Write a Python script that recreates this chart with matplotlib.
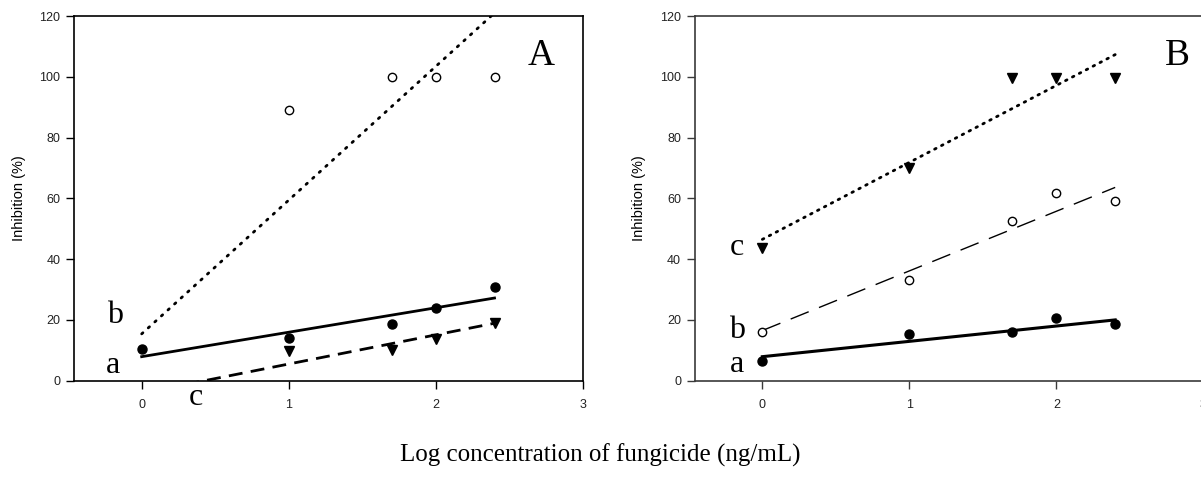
import matplotlib
matplotlib.use("Agg")
import matplotlib.pyplot as plt
import numpy as np

# ---- data ----
x_conc = [0, 1, 1.7, 2, 2.4]
x_conc_A_c = [1, 1.7, 2, 2.4]
x_conc_A_b = [1, 1.7, 2, 2.4]

A_a = [10.5, 14.2, 18.5, 23.9, 30.8]
A_b = [89.2, 100, 100, 100]
A_c = [9.9, 10.1, 13.8, 18.9]

B_a = [6.6, 15.2, 16.0, 20.6, 18.5]
B_b = [16.0, 33.2, 52.6, 61.7, 59.0]
B_c = [43.5, 70.1, 99.6, 99.6, 99.6]

fit_x = [0, 2.4]
A_fit_a = [7.9, 27.2]
A_fit_b = [15.4, 121.0]
A_fit_c = [-4.1, 18.9]
B_fit_a = [7.9, 20.0]
B_fit_b = [16.5, 63.6]
B_fit_c = [46.5, 107.3]

xticks = [0, 1, 2, 3]
yticks = [0, 20, 40, 60, 80, 100, 120]

serif = ["Liberation Serif", "DejaVu Serif"]
sans = ["Liberation Sans", "DejaVu Sans"]

fig = plt.figure(figsize=(12.01, 4.78), dpi=100)
axA = fig.add_axes([0.0619, 0.2036, 0.4233, 0.7629])
axB = fig.add_axes([0.5787, 0.2036, 0.4233, 0.7629])

def style(ax, spine_color):
    ax.set_xlim(-0.458, 3.0)
    ax.set_ylim(0, 120)
    ax.set_xticks(xticks)
    ax.set_yticks(yticks)
    ax.tick_params(direction="out", length=6, width=1, labelsize=9,
                   colors=spine_color, labelcolor="#222222")
    ax.tick_params(axis="x", pad=7)
    ax.tick_params(axis="y", pad=4)
    for lab in ax.get_xticklabels() + ax.get_yticklabels():
        lab.set_fontfamily(sans)
    for sp in ax.spines.values():
        sp.set_color(spine_color)
        sp.set_linewidth(1.2)
    ax.set_ylabel("Inhibition (%)", fontsize=10.5, family=sans, labelpad=10)

style(axA, "black")
style(axB, "#3a3a3a")
axB.spines["right"].set_visible(False)

# Panel A
axA.plot(fit_x, A_fit_a, color="black", lw=2.0, ls="-")
axA.plot(fit_x, A_fit_b, color="black", lw=2.0, ls=(0, (0.6, 2.6)), dash_capstyle="round")
axA.plot(fit_x, A_fit_c, color="black", lw=2.0, ls=(0, (5, 3)))
axA.plot(x_conc, A_a, "o", color="black", ms=6.5)
axA.plot(x_conc_A_b, A_b, "o", mfc="white", mec="black", mew=1.0, ms=6)
axA.plot(x_conc_A_c, A_c, "v", color="black", ms=7)

# Panel B
axB.plot(fit_x, B_fit_a, color="black", lw=2.2, ls="-")
axB.plot(fit_x, B_fit_b, color="black", lw=1.0, ls=(0, (14, 8)))
axB.plot(fit_x, B_fit_c, color="black", lw=2.0, ls=(0, (0.6, 2.2)), dash_capstyle="round")
axB.plot(x_conc, B_a, "o", color="black", ms=6.5)
axB.plot(x_conc, B_b, "o", mfc="white", mec="black", mew=1.0, ms=6)
axB.plot(x_conc, B_c, "v", color="black", ms=7)

# letters
fs = 23
axA.text(-0.18, 19, "b", fontsize=fs, family=serif, ha="center", va="baseline")
axA.text(-0.195, 2.6, "a", fontsize=fs, family=serif, ha="center", va="baseline")
axA.text(0.37, -8, "c", fontsize=fs, family=serif, ha="center", va="baseline", clip_on=False)
axA.text(2.72, 104, "A", fontsize=27, family=serif, ha="center", va="baseline")

axB.text(-0.17, 41.4, "c", fontsize=fs, family=serif, ha="center", va="baseline")
axB.text(-0.17, 14, "b", fontsize=fs, family=serif, ha="center", va="baseline")
axB.text(-0.17, 3, "a", fontsize=fs, family=serif, ha="center", va="baseline")
axB.text(2.82, 104, "B", fontsize=27, family=serif, ha="center", va="baseline")

fig.text(0.5, 0.035, "Log concentration of fungicide (ng/mL)", fontsize=18,
         family=serif, ha="center", va="baseline")

fig.savefig("out.png", dpi=100)
